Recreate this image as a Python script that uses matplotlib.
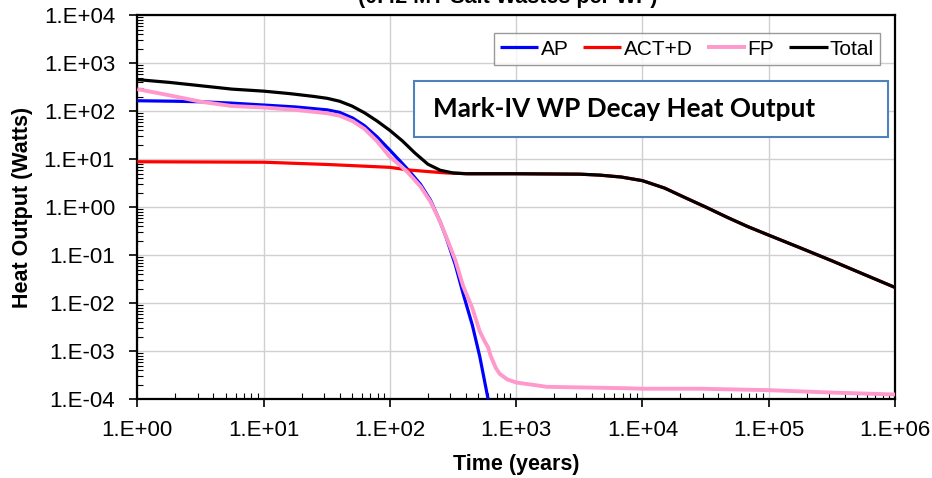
import numpy as np
import matplotlib
matplotlib.use("Agg")
import matplotlib.pyplot as plt
from matplotlib.ticker import FuncFormatter, LogLocator, NullFormatter
from matplotlib.patches import Rectangle

plt.rcParams['font.family'] = ['Liberation Sans', 'DejaVu Sans']

# 1. data (years, watts)
ap_t = [1, 2, 3.2, 5.6, 10, 18, 32, 40, 51, 63, 79, 100, 120, 140, 175,
        210, 250, 280, 330, 380, 450, 515, 600]
ap_w = [166, 162, 158, 148, 135, 123, 107, 95, 72, 50, 29.5, 15.5, 9.3,
        6.0, 3.0, 1.4, 0.5, 0.23, 0.063, 0.016, 0.0035, 7.8e-4, 1.0e-4]

act_t = [1, 10, 32, 100, 140, 210, 280, 430, 1000, 3200, 4600, 6800,
         10000, 15000, 21000, 32000, 47000, 68000, 100000, 180000,
         320000, 560000, 1000000]
act_w = [8.9, 8.7, 7.8, 6.8, 6.0, 5.5, 5.2, 5.0, 5.0, 4.9, 4.68, 4.27,
         3.59, 2.51, 1.66, 1.0, 0.617, 0.398, 0.263, 0.141,
         0.0759, 0.0407, 0.0214]

fp_t = [1, 1.8, 3.2, 5.6, 10, 18, 32, 40, 51, 63, 79, 100, 120, 140, 175,
        210, 250, 280, 330, 380, 450, 515, 560, 600, 630, 690, 740, 850,
        1000, 1750, 7400, 10000, 29000, 100000, 320000, 1000000]
fp_w = [290, 215, 158, 129, 120, 107, 91, 81, 62, 43, 24, 11.2, 7.6, 5.2,
        2.7, 1.3, 0.5, 0.24, 0.079, 0.023, 0.0079, 0.0026, 0.00166, 0.0012,
        7.9e-4, 4.5e-4, 3.4e-4, 2.6e-4, 2.24e-4, 1.82e-4, 1.7e-4, 1.66e-4,
        1.66e-4, 1.55e-4, 1.38e-4, 1.26e-4]

tot_t = [1, 1.8, 3.2, 5.6, 10, 16, 25, 32, 40, 50, 63, 79, 100, 126, 158,
         200, 251, 316, 398, 1000, 3200, 4600, 6800, 10000, 15000, 21000,
         32000, 47000, 68000, 100000, 180000, 320000, 560000, 1000000]
tot_w = [457, 400, 340, 290, 263, 234, 204, 186, 162, 129, 93, 63, 40, 24,
         13.5, 7.9, 5.9, 5.2, 5.0, 5.0, 4.9, 4.68, 4.27, 3.59, 2.51, 1.66,
         1.0, 0.617, 0.398, 0.263, 0.141, 0.0759, 0.0407, 0.0214]

# 2. figure
fig = plt.figure(figsize=(9.32, 4.78), dpi=100)
ax = fig.add_axes([137.3 / 932, 1 - 399.3 / 478, (895 - 137.3) / 932, (399.3 - 15.3) / 478])

kw = dict(solid_joinstyle='round', solid_capstyle='butt')
ax.plot(ap_t, ap_w, color='#0000ff', lw=2.3, label='AP', zorder=3, **kw)
ax.plot(act_t, act_w, color='#ff0000', lw=2.3, label='ACT+D', zorder=3, **kw)
ax.plot(fp_t, fp_w, color='#ff99cc', lw=2.8, label='FP', zorder=3, **kw)
ax.plot(tot_t, tot_w, color='#000000', lw=2.3, label='Total', zorder=4, **kw)

ax.set_xscale('log')
ax.set_yscale('log')
ax.set_xlim(1, 1e6)
ax.set_ylim(1e-4, 1e4)

fmt = FuncFormatter(lambda v, p: f"1.E{int(round(np.log10(v))):+03d}")
ax.xaxis.set_major_locator(LogLocator(base=10, numticks=20))
ax.yaxis.set_major_locator(LogLocator(base=10, numticks=20))
ax.xaxis.set_major_formatter(fmt)
ax.yaxis.set_major_formatter(fmt)
ax.xaxis.set_minor_locator(LogLocator(base=10, subs=np.arange(2, 10), numticks=100))
ax.yaxis.set_minor_locator(LogLocator(base=10, subs=np.arange(2, 10), numticks=100))
ax.xaxis.set_minor_formatter(NullFormatter())
ax.yaxis.set_minor_formatter(NullFormatter())

ax.tick_params(which='major', direction='out', length=6, width=1.2, labelsize=16)
ax.tick_params(axis='y', which='major', pad=10)
ax.tick_params(axis='x', which='major', pad=9)
ax.tick_params(which='minor', direction='in', length=4, width=0.8)
ax.grid(True, which='major', color='#d0d0d0', lw=1)
ax.set_axisbelow(True)
for s in ax.spines.values():
    s.set_linewidth(1.6)

ax.set_xlabel('Time (years)', fontsize=15.5, fontweight='bold', labelpad=9)
ax.set_ylabel('Heat Output (Watts)', fontsize=15.5, fontweight='bold', labelpad=8)

leg = ax.legend(loc='upper right', bbox_to_anchor=(1 - 15 / 757.7, 1 - 18 / 384),
                ncol=4, fontsize=15, frameon=True, fancybox=False,
                edgecolor='#808080', handlelength=1.85, handletextpad=0.1,
                columnspacing=0.7, borderpad=0.3, borderaxespad=0)
leg.get_frame().set_linewidth(1.0)

# title (cut off at top in the reference)
fig.text(0.545, 1 - 3 / 478, '(0.42 MT-Salt Wastes per WP)', ha='center', va='baseline',
         fontsize=15.5, fontweight='bold')

# annotation box
fig.patches.append(Rectangle((414 / 932, 1 - 137 / 478), (888 - 414) / 932, (137 - 81) / 478,
                             transform=fig.transFigure, facecolor='white',
                             edgecolor='#4f81bd', lw=1.5, zorder=5))
fig.text(433 / 932, 1 - 109 / 478, 'Mark-IV WP Decay Heat Output', ha='left', va='center',
         fontsize=18.8, fontweight='bold', family=['Lato', 'DejaVu Sans'], zorder=6)

plt.savefig('out.png', dpi=100)
